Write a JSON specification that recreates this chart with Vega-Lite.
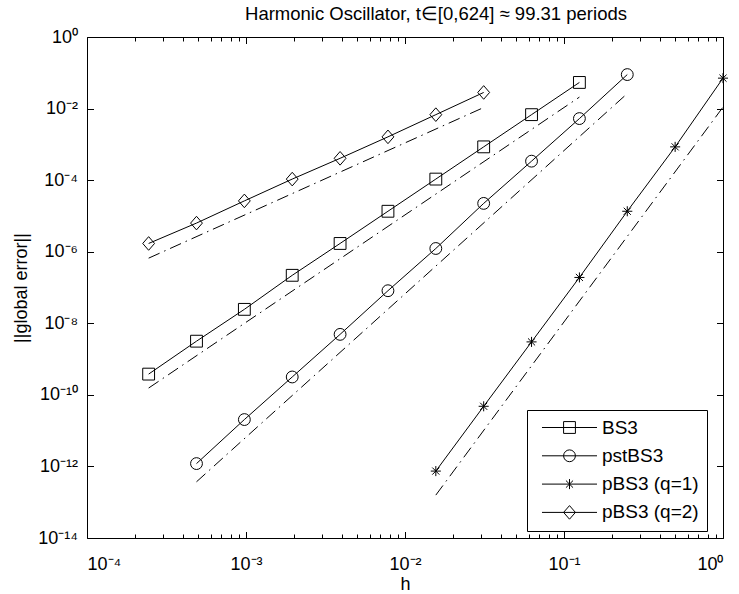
{
  "$schema": "https://vega.github.io/schema/vega-lite/v6.json",
  "width": 636,
  "height": 501,
  "autosize": {"type": "none"},
  "padding": {"left": 87, "top": 37, "right": 16, "bottom": 56},
  "background": "white",
  "config": {
    "view": {"stroke": null},
    "font": "Liberation Sans",
    "axis": {
      "domainColor": "black", "domainWidth": 1,
      "tickColor": "black", "tickWidth": 1,
      "labelColor": "black", "labelFont": "Liberation Sans", "labelFontSize": 18,
      "titleFont": "Liberation Sans", "titleFontSize": 18, "titleFontWeight": "normal", "titleColor": "black",
      "grid": false
    }
  },
  "title": {
    "text": "Harmonic Oscillator, t∈[0,624] ≈ 99.31 periods",
    "font": "Liberation Sans", "fontSize": 18.5, "fontWeight": "normal", "color": "black",
    "anchor": "middle", "dx": 31, "offset": 5
  },
  "datasets": {
    "methods": [
      {"series": "BS3", "h": 0.000244140625, "err": 3.80e-10},
      {"series": "BS3", "h": 0.00048828125, "err": 3.16e-9},
      {"series": "BS3", "h": 0.0009765625, "err": 2.45e-8},
      {"series": "BS3", "h": 0.001953125, "err": 2.19e-7},
      {"series": "BS3", "h": 0.00390625, "err": 1.70e-6},
      {"series": "BS3", "h": 0.0078125, "err": 1.35e-5},
      {"series": "BS3", "h": 0.015625, "err": 1.07e-4},
      {"series": "BS3", "h": 0.03125, "err": 8.51e-4},
      {"series": "BS3", "h": 0.0625, "err": 6.76e-3},
      {"series": "BS3", "h": 0.125, "err": 5.37e-2},
      {"series": "pstBS3", "h": 0.00048828125, "err": 1.20e-12},
      {"series": "pstBS3", "h": 0.0009765625, "err": 2.04e-11},
      {"series": "pstBS3", "h": 0.001953125, "err": 3.16e-10},
      {"series": "pstBS3", "h": 0.00390625, "err": 4.90e-9},
      {"series": "pstBS3", "h": 0.0078125, "err": 8.13e-8},
      {"series": "pstBS3", "h": 0.015625, "err": 1.23e-6},
      {"series": "pstBS3", "h": 0.03125, "err": 2.24e-5},
      {"series": "pstBS3", "h": 0.0625, "err": 3.39e-4},
      {"series": "pstBS3", "h": 0.125, "err": 5.25e-3},
      {"series": "pstBS3", "h": 0.25, "err": 8.91e-2},
      {"series": "pBS3 (q=1)", "h": 0.015625, "err": 7.41e-13},
      {"series": "pBS3 (q=1)", "h": 0.03125, "err": 4.79e-11},
      {"series": "pBS3 (q=1)", "h": 0.0625, "err": 3.02e-9},
      {"series": "pBS3 (q=1)", "h": 0.125, "err": 1.91e-7},
      {"series": "pBS3 (q=1)", "h": 0.25, "err": 1.35e-5},
      {"series": "pBS3 (q=1)", "h": 0.5, "err": 8.51e-4},
      {"series": "pBS3 (q=1)", "h": 1, "err": 7.08e-2},
      {"series": "pBS3 (q=2)", "h": 0.000244140625, "err": 1.70e-6},
      {"series": "pBS3 (q=2)", "h": 0.00048828125, "err": 6.31e-6},
      {"series": "pBS3 (q=2)", "h": 0.0009765625, "err": 2.63e-5},
      {"series": "pBS3 (q=2)", "h": 0.001953125, "err": 1.07e-4},
      {"series": "pBS3 (q=2)", "h": 0.00390625, "err": 4.07e-4},
      {"series": "pBS3 (q=2)", "h": 0.0078125, "err": 1.62e-3},
      {"series": "pBS3 (q=2)", "h": 0.015625, "err": 6.76e-3},
      {"series": "pBS3 (q=2)", "h": 0.03125, "err": 2.82e-2}
    ],
    "refs": [
      {"series": "BS3", "h": 0.000244140625, "err": 1.55e-10},
      {"series": "BS3", "h": 0.125, "err": 2.09e-2},
      {"series": "pstBS3", "h": 0.00048828125, "err": 3.72e-13},
      {"series": "pstBS3", "h": 0.25, "err": 2.63e-2},
      {"series": "pBS3 (q=1)", "h": 0.015625, "err": 1.58e-13},
      {"series": "pBS3 (q=1)", "h": 1, "err": 1.10e-2},
      {"series": "pBS3 (q=2)", "h": 0.000244140625, "err": 6.61e-7},
      {"series": "pBS3 (q=2)", "h": 0.03125, "err": 1.07e-2}
    ]
  },
  "layer": [
    {
      "data": {"name": "refs"},
      "mark": {"type": "line", "color": "black", "strokeWidth": 1, "strokeDash": [12, 5, 1.5, 5]},
      "encoding": {
        "x": {
          "field": "h", "type": "quantitative",
          "scale": {"type": "log", "domain": [0.0001, 1], "nice": false},
          "axis": {
            "orient": "bottom", "title": "h", "titlePadding": 2,
            "values": [0.0001,0.0002,0.0003,0.0004,0.0005,0.0006,0.0007,0.0008,0.0009,0.001,0.002,0.003,0.004,0.005,0.006,0.007,0.008,0.009,0.01,0.02,0.03,0.04,0.05,0.06,0.07,0.08,0.09,0.1,0.2,0.3,0.4,0.5,0.6,0.7,0.8,0.9,1],
            "tickSize": {"condition": {"test": "indexof([1,0.1,0.01,0.001,0.0001], datum.value) >= 0", "value": -6.5}, "value": -4},
            "labelBaseline": "top", "labelPadding": 24,
            "labelExpr": "datum.value == 1 ? '10⁰' : datum.value == 0.1 ? '10⁻¹' : datum.value == 0.01 ? '10⁻²' : datum.value == 0.001 ? '10⁻³' : datum.value == 0.0001 ? '10⁻⁴' : ''"
          }
        },
        "y": {
          "field": "err", "type": "quantitative",
          "scale": {"type": "log", "domain": [1e-14, 1], "nice": false},
          "axis": {
            "orient": "left", "title": "||global error||", "titlePadding": 7,
            "values": [1, 0.01, 0.0001, 1e-6, 1e-8, 1e-10, 1e-12, 1e-14],
            "tickSize": -6.5, "labelPadding": 16,
            "labelExpr": "datum.value == 1 ? '10⁰' : datum.value == 0.01 ? '10⁻²' : datum.value == 0.0001 ? '10⁻⁴' : datum.value == 1e-6 ? '10⁻⁶' : datum.value == 1e-8 ? '10⁻⁸' : datum.value == 1e-10 ? '10⁻¹⁰' : datum.value == 1e-12 ? '10⁻¹²' : '10⁻¹⁴'"
          }
        },
        "detail": {"field": "series"}
      }
    },
    {
      "data": {"name": "methods"},
      "mark": {"type": "line", "color": "black", "strokeWidth": 1},
      "encoding": {
        "x": {
          "field": "h", "type": "quantitative",
          "scale": {"type": "log", "domain": [0.0001, 1], "nice": false},
          "axis": {
            "orient": "top", "title": null, "labels": false,
            "values": [0.0001,0.0002,0.0003,0.0004,0.0005,0.0006,0.0007,0.0008,0.0009,0.001,0.002,0.003,0.004,0.005,0.006,0.007,0.008,0.009,0.01,0.02,0.03,0.04,0.05,0.06,0.07,0.08,0.09,0.1,0.2,0.3,0.4,0.5,0.6,0.7,0.8,0.9,1],
            "tickSize": {"condition": {"test": "indexof([1,0.1,0.01,0.001,0.0001], datum.value) >= 0", "value": -6.5}, "value": -4}
          }
        },
        "y": {
          "field": "err", "type": "quantitative",
          "scale": {"type": "log", "domain": [1e-14, 1], "nice": false},
          "axis": {
            "orient": "right", "title": null, "labels": false,
            "values": [1, 0.01, 0.0001, 1e-6, 1e-8, 1e-10, 1e-12, 1e-14],
            "tickSize": -6.5
          }
        },
        "detail": {"field": "series"}
      }
    },
    {
      "data": {"name": "methods"},
      "mark": {"type": "point", "filled": false, "color": "black", "strokeWidth": 1, "size": 140, "opacity": 1},
      "encoding": {
        "x": {"field": "h", "type": "quantitative", "axis": null},
        "y": {"field": "err", "type": "quantitative", "axis": null},
        "shape": {
          "field": "series", "type": "nominal", "legend": null,
          "scale": {
            "domain": ["BS3", "pstBS3", "pBS3 (q=1)", "pBS3 (q=2)"],
            "range": ["square", "circle", "M-0.85,0H0.85M0,-0.85V0.85M-0.6,-0.6L0.6,0.6M-0.6,0.6L0.6,-0.6", "M0,-1.15L1,0L0,1.15L-1,0Z"]
          }
        }
      }
    },
    {
      "data": {"name": "methods"},
      "mark": {"type": "point", "filled": false, "color": "black", "strokeWidth": 1, "size": 140, "opacity": 0},
      "encoding": {
        "x": {"field": "h", "type": "quantitative", "axis": null},
        "y": {"field": "err", "type": "quantitative", "axis": null},
        "shape": {
          "field": "series", "type": "nominal",
          "scale": {
            "domain": ["BS3", "pstBS3", "pBS3 (q=1)", "pBS3 (q=2)"],
            "range": [
              "M-4.65,0H4.65M-1,-1H1V1H-1Z",
              "M-4.65,0H4.65M1,0A1,1,0,1,1,-1,0A1,1,0,1,1,1,0Z",
              "M-4.65,0H4.65M0,-0.85V0.85M-0.6,-0.6L0.6,0.6M-0.6,0.6L0.6,-0.6",
              "M-4.65,0H4.65M0,-1.15L1,0L0,1.15L-1,0Z"
            ]
          },
          "legend": {
            "title": null, "orient": "none", "legendX": 440, "legendY": 373,
            "padding": 8, "strokeColor": "black", "fillColor": "white", "cornerRadius": 0,
            "symbolSize": 140, "symbolStrokeColor": "black", "symbolFillColor": "transparent",
            "symbolStrokeWidth": 1, "symbolOpacity": 1, "symbolOffset": 25,
            "labelOffset": 23, "labelFont": "Liberation Sans", "labelFontSize": 19, "labelColor": "black",
            "rowPadding": 8.3, "labelLimit": 300
          }
        }
      }
    }
  ],
  "resolve": {
    "axis": {"x": "independent", "y": "independent"},
    "scale": {"shape": "independent"}
  }
}
